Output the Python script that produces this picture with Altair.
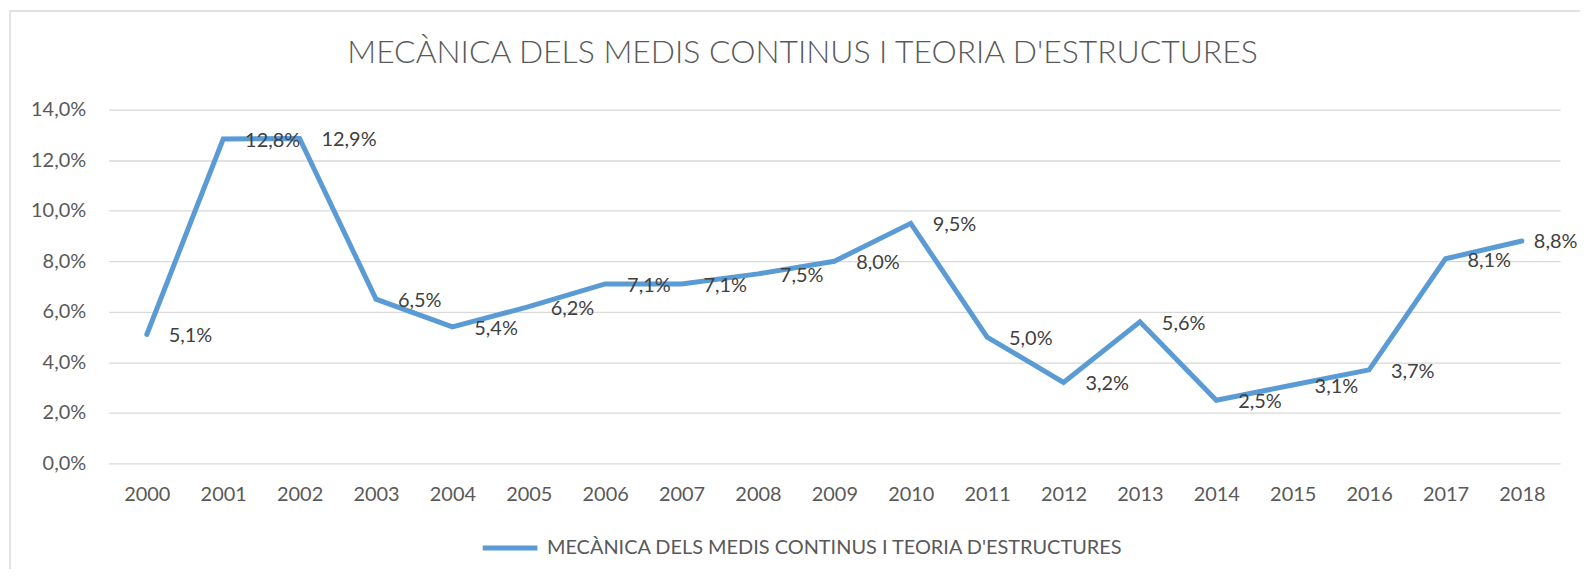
import altair as alt
import pandas as pd

TITLE = "MECÀNICA DELS MEDIS CONTINUS I TEORIA D'ESTRUCTURES"
years = [str(y) for y in range(2000, 2019)]
values = [5.1, 12.84, 12.86, 6.5, 5.4, 6.2, 7.1, 7.1, 7.5, 8.0, 9.5, 5.0, 3.2, 5.6, 2.5, 3.1, 3.7, 8.1, 8.8]
y_ticks = [0, 2, 4, 6, 8, 10, 12, 14]

df = pd.DataFrame({
    "year": years,
    "value": values,
    "serie": [TITLE] * len(years),
})
df["label"] = [f"{v:.1f}".replace(".", ",") + "%" for v in values]

W, H = 1457, 355
FONT = "Lato"
TXT = "#595959"

x_enc = alt.X("year:O", scale=alt.Scale(type="point", padding=0.5),
              axis=alt.Axis(title=None, labelAngle=0, ticks=False, domain=False,
                            labelPadding=21, labelFontSize=20, labelFont=FONT,
                            labelColor=TXT, grid=False))
y_enc = alt.Y("value:Q", scale=alt.Scale(domain=[0, 14], nice=False),
              axis=alt.Axis(title=None, values=y_ticks, ticks=False, domain=False,
                            labelPadding=23, labelFontSize=20, labelFont=FONT,
                            labelColor=TXT, grid=True, gridColor="#d9d9d9",
                            gridWidth=1.3,
                            labelExpr="replace(format(datum.value, '.1f'), '.', ',') + '%'"))

line = alt.Chart(df).mark_line(strokeWidth=5, strokeCap="round", strokeJoin="miter").encode(
    x=x_enc,
    y=y_enc,
    color=alt.Color("serie:N", scale=alt.Scale(range=["#5b9bd5"]),
                    legend=alt.Legend(orient="none", legendX=373, legendY=410, title=None,
                                      symbolType="stroke", symbolStrokeWidth=5,
                                      symbolSize=3025, labelFont=FONT, labelFontSize=20,
                                      labelColor=TXT, labelOffset=7, padding=0,
                                      labelLimit=0)),
)

labels_main = alt.Chart(df).transform_filter("datum.year != '2018'").mark_text(
    align="left", baseline="middle", dx=22, dy=2,
    font=FONT, fontSize=20, color="#404040").encode(
    x="year:O", y="value:Q", text="label:N"
)
labels_last = alt.Chart(df).transform_filter("datum.year == '2018'").mark_text(
    align="left", baseline="middle", dx=12, dy=1,
    font=FONT, fontSize=20, color="#404040").encode(
    x="year:O", y="value:Q", text="label:N"
)

frame = alt.Chart(pd.DataFrame({"a": [0]})).mark_rect(fill=None, stroke="#d9d9d9", strokeWidth=1.5).encode(
    x=alt.value(-99), x2=alt.value(W + 200), y=alt.value(-99), y2=alt.value(H + 300)
)

chart = alt.layer(frame, line, labels_main, labels_last).properties(
    width=W, height=H,
    title=alt.TitleParams(text=TITLE, font=FONT, fontSize=32, fontWeight=300, color=TXT,
                          anchor="middle", frame="group", dx=-32, offset=-60),
    autosize=alt.AutoSizeParams(type="none"),
    padding={"left": 101, "top": 101, "right": 20, "bottom": 105},
).configure_view(stroke=None)

chart.save("out.html", embed_options={"renderer": "svg", "actions": False})
